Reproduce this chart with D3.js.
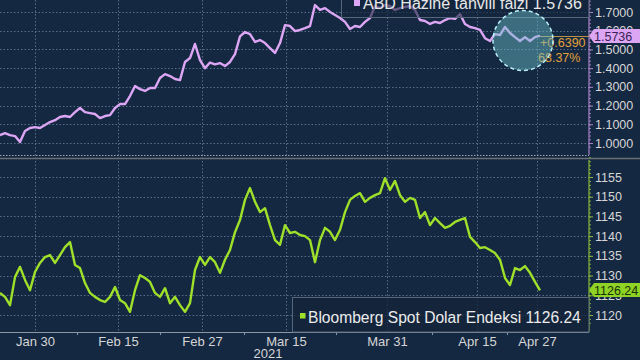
<!DOCTYPE html>
<html><head><meta charset="utf-8">
<script src="https://cdn.jsdelivr.net/npm/d3@7"></script>
<style>
html,body{margin:0;padding:0;background:#152841;}
svg{display:block;font-family:"Liberation Sans",Arial,sans-serif;}
</style></head><body>
<svg id="c" width="640" height="360"></svg>
<script>
// ---- data ----
const treasuryName = "ABD Hazine tahvili faizi";
const dollarName = "Bloomberg Spot Dolar Endeksi";
const treasuryLast = 1.5736;
const dollarLast = 1126.24;
const changeText = "+0.6390";
const changePct = "68.37%";
const yearLabel = "2021";
const treasury = [1.042,1.053,1.042,1.037,1.005,1.064,1.080,1.085,1.080,1.096,
1.112,1.122,1.139,1.144,1.139,1.165,1.187,1.165,1.160,1.155,
1.133,1.144,1.149,1.187,1.208,1.208,1.251,1.304,1.288,1.278,
1.294,1.294,1.347,1.368,1.358,1.342,1.336,1.433,1.454,1.529,
1.443,1.400,1.430,1.420,1.427,1.411,1.433,1.475,1.570,1.593,
1.582,1.540,1.550,1.534,1.507,1.481,1.534,1.630,1.625,1.598,
1.604,1.614,1.625,1.737,1.711,1.721,1.700,1.684,1.668,1.647,
1.609,1.625,1.620,1.647,1.668,1.732,1.721,1.737,1.732,1.711,
1.721,1.727,1.732,1.711,1.657,1.652,1.636,1.647,1.641,1.657,
1.668,1.663,1.689,1.636,1.620,1.614,1.604,1.560,1.545,1.582,
1.577,1.620,1.588,1.566,1.545,1.566,1.545,1.566,1.5736];
const dollar = [1125.6,1124.6,1122.5,1129.6,1132.2,1128.9,1126.3,1130.9,1133.2,1134.7,
1135.2,1133.2,1135.2,1137.2,1138.5,1132.7,1131.9,1128.1,1125.6,1124.6,
1123.8,1123.3,1124.6,1127.1,1123.8,1123.0,1120.8,1126.3,1130.1,1129.4,
1128.4,1125.6,1124.6,1126.8,1123.0,1124.6,1122.5,1120.8,1123.0,1131.4,
1134.7,1132.7,1134.7,1133.4,1130.7,1134.0,1136.5,1141.0,1144.1,1149.2,
1152.2,1148.7,1146.1,1147.1,1142.8,1139.0,1137.8,1142.8,1140.8,1141.1,
1140.3,1140.0,1139.0,1133.4,1139.0,1142.1,1141.1,1139.0,1141.6,1146.1,
1149.2,1150.2,1150.9,1148.7,1149.7,1150.4,1150.9,1154.7,1151.7,1154.0,
1150.4,1148.7,1149.7,1149.2,1144.6,1146.1,1142.8,1144.6,1143.3,1142.1,
1142.6,1143.6,1144.1,1144.6,1139.8,1138.5,1137.0,1137.2,1136.5,1135.7,
1134.0,1129.4,1127.6,1131.9,1131.4,1132.4,1130.7,1128.4,1126.24];
const xTickLabels = ["Jan 30","Feb 15","Feb 27","Mar 15","Mar 31","Apr 15","Apr 27"];
const xTickIdx = [7, 23.6, 40.4, 57.2, 77.4, 95.4, 107.4];
const xMinorIdx = [15.4, 32, 48.8, 67.2, 86.4, 101.4];
const yearIdx = 53.6;
const treasuryTicks = [1.0,1.1,1.2,1.3,1.4,1.5,1.6,1.7];
const dollarTicks = [1120,1125,1130,1135,1140,1145,1150,1155];

// ---- layout ----
const W = 640, H = 360, plotR = 589;
const topY0 = 0, topY1 = 155, botY0 = 160, botY1 = 332;
const bg = "#152841", gridC = "#6a7f9a", labC = "#d6d6d6";
const pink = "#dda6f4", lime = "#9ee02a";

const svg = d3.select("#c");
svg.append("rect").attr("width",W).attr("height",H).attr("fill",bg);

const x = d3.scaleLinear().domain([0, treasury.length-1]).range([0, 540]);
const yT = d3.scaleLinear().domain([1.0, 1.7]).range([143, 12]);
const yB = d3.scaleLinear().domain([1120, 1155]).range([315, 177]);

// grid
const g = svg.append("g");
g.selectAll(".ht").data(treasuryTicks).join("line")
 .attr("x1",0).attr("x2",plotR).attr("y1",d=>Math.round(yT(d))+0.5).attr("y2",d=>Math.round(yT(d))+0.5)
 .attr("stroke",gridC).attr("stroke-dasharray","1.5,2").attr("opacity",0.8);
g.selectAll(".hb").data(dollarTicks).join("line")
 .attr("x1",0).attr("x2",plotR).attr("y1",d=>Math.round(yB(d))+0.5).attr("y2",d=>Math.round(yB(d))+0.5)
 .attr("stroke",gridC).attr("stroke-dasharray","1.5,2").attr("opacity",0.8);
g.selectAll(".v").data(xTickIdx).join("line")
 .attr("x1",d=>Math.round(x(d))+0.5).attr("x2",d=>Math.round(x(d))+0.5).attr("y1",0).attr("y2",botY1)
 .attr("stroke",gridC).attr("stroke-dasharray","1.5,2").attr("opacity",0.8);

// separator
svg.append("line").attr("x1",0).attr("x2",plotR).attr("y1",155.5).attr("y2",155.5)
 .attr("stroke","#a0a8b0").attr("stroke-dasharray","1.5,1.5");
svg.append("line").attr("x1",0).attr("x2",W).attr("y1",158.5).attr("y2",158.5)
 .attr("stroke","#6c7076").attr("stroke-width",1.5);

// lines
const lineT = d3.line().x((d,i)=>x(i)).y(d=>yT(d));
const lineB = d3.line().x((d,i)=>x(i)).y(d=>yB(d));
svg.append("path").datum(treasury).attr("d",lineT).attr("fill","none")
 .attr("stroke",pink).attr("stroke-width",2.4).attr("stroke-linejoin","round");
svg.append("path").datum(dollar).attr("d",lineB).attr("fill","none")
 .attr("stroke",lime).attr("stroke-width",2.4).attr("stroke-linejoin","round");

// axes
function styleAxis(sel, col){
  sel.select(".domain").attr("stroke",col).attr("stroke-width",1.2);
  sel.selectAll(".tick line").attr("stroke",col);
  sel.selectAll(".tick text").attr("fill",labC).attr("font-size","12.5px")
     .attr("font-family","'Liberation Sans',Arial,sans-serif");
}
const minorT = d3.range(0.98, 1.781, 0.02);
const axT = svg.append("g").attr("transform",`translate(${plotR},0)`);
axT.append("g").call(d3.axisRight(yT).tickValues(minorT).tickSize(2).tickFormat("")).call(s=>{s.select(".domain").remove();s.selectAll("line").attr("stroke","#9a7ab8");});
axT.append("g").call(d3.axisRight(yT).tickValues(treasuryTicks).tickFormat(d3.format(".4f")).tickSize(4).tickPadding(2).tickSizeOuter(0))
 .call(s=>styleAxis(s,"#a882c8"));
axT.select(".domain").attr("d",`M0,0V${topY1}`);

const minorB = d3.range(1118, 1161, 1);
const axB = svg.append("g").attr("transform",`translate(${plotR},0)`);
axB.append("g").call(d3.axisRight(yB).tickValues(minorB).tickSize(2).tickFormat("")).call(s=>{s.select(".domain").remove();s.selectAll("line").attr("stroke","#7aa83a");});
const axB2 = axB.append("g").call(d3.axisRight(yB).tickValues(dollarTicks).tickFormat(d3.format("d")).tickSize(4).tickPadding(2).tickSizeOuter(0))
 .call(s=>styleAxis(s,"#86b83a"));
axB2.select(".domain").attr("d",`M0,${botY0}V${botY1}`);

// x axis
svg.append("line").attr("x1",0).attr("x2",plotR).attr("y1",botY1+0.5).attr("y2",botY1+0.5).attr("stroke","#8a96a6");
const axX = svg.append("g").attr("transform",`translate(0,${botY1})`)
 .call(d3.axisBottom(x).tickValues(xTickIdx).tickFormat((d,i)=>xTickLabels[i]).tickSize(0).tickPadding(5));
axX.select(".domain").remove();
axX.selectAll("text").attr("fill",labC).attr("font-size","13px").attr("font-family","'Liberation Sans',Arial,sans-serif");
const axXm = svg.append("g").attr("transform",`translate(0,${botY1})`)
 .call(d3.axisBottom(x).tickValues(xMinorIdx).tickFormat("").tickSize(3));
axXm.select(".domain").remove(); axXm.selectAll("line").attr("stroke","#8a96a6");
svg.append("text").attr("x",x(yearIdx)).attr("y",358).attr("text-anchor","middle")
 .attr("fill",labC).attr("font-size","13px").text(yearLabel);

// top legend box
const lgT = svg.append("g");
lgT.append("rect").attr("x",341.5).attr("y",-3).attr("width",plotR-341.5).attr("height",20.5)
 .attr("fill","#14243a").attr("fill-opacity",0.6).attr("stroke","#56667a");
lgT.append("rect").attr("x",354).attr("y",0).attr("width",6).attr("height",6).attr("fill",pink);
lgT.append("text").attr("x",363).attr("y",9).attr("fill","#e8e8e8").attr("font-size","16px")
 .text(`${treasuryName} ${treasuryLast.toFixed(4)}`);

// bottom legend box
const lgB = svg.append("g");
lgB.append("rect").attr("x",292.5).attr("y",297.5).attr("width",plotR-292.5).attr("height",botY1-297.5)
 .attr("fill","#14243a").attr("fill-opacity",0.75).attr("stroke","#56667a");
lgB.append("rect").attr("x",300).attr("y",313).attr("width",5.5).attr("height",5.5).attr("fill",lime);
lgB.append("text").attr("x",308).attr("y",323).attr("fill","#ececec").attr("font-size","15.6px")
 .text(`${dollarName} ${dollarLast.toFixed(2)}`);

// change annotation
const lastX = x(treasury.length-1), lastYT = yT(treasuryLast);
svg.append("line").attr("x1",lastX).attr("x2",plotR).attr("y1",Math.round(lastYT)+0.5).attr("y2",Math.round(lastYT)+0.5)
 .attr("stroke","#b8924a").attr("stroke-width",1);
svg.append("text").attr("x",540).attr("y",47).attr("fill","#e0a03a").attr("font-size","12.5px").text(changeText);
svg.append("text").attr("x",538).attr("y",62).attr("fill","#e0a03a").attr("font-size","12.5px").text(changePct);
svg.append("circle").attr("cx",523).attr("cy",40.5).attr("r",30)
 .attr("fill","#6cc0cc").attr("fill-opacity",0.45)
 .attr("stroke","#b8f0f6").attr("stroke-width",1.5).attr("stroke-dasharray","4,3");

// value badges
function badge(yv, txt, fill, tcol){
  const y = Math.round(yv);
  const gb = svg.append("g");
  gb.append("path").attr("d",`M${plotR},${y} L${plotR+5},${y-7} H${W} V${y+7} H${plotR+5} Z`).attr("fill",fill);
  gb.append("text").attr("x",594).attr("y",y+4.5).attr("fill",tcol).attr("font-size","12.5px").text(txt);
}
badge(yT(treasuryLast), treasuryLast.toFixed(4), pink, "#3a1f55");
badge(yB(dollarLast), dollarLast.toFixed(2), "#8fd424", "#17300a");
</script>
</body></html>
